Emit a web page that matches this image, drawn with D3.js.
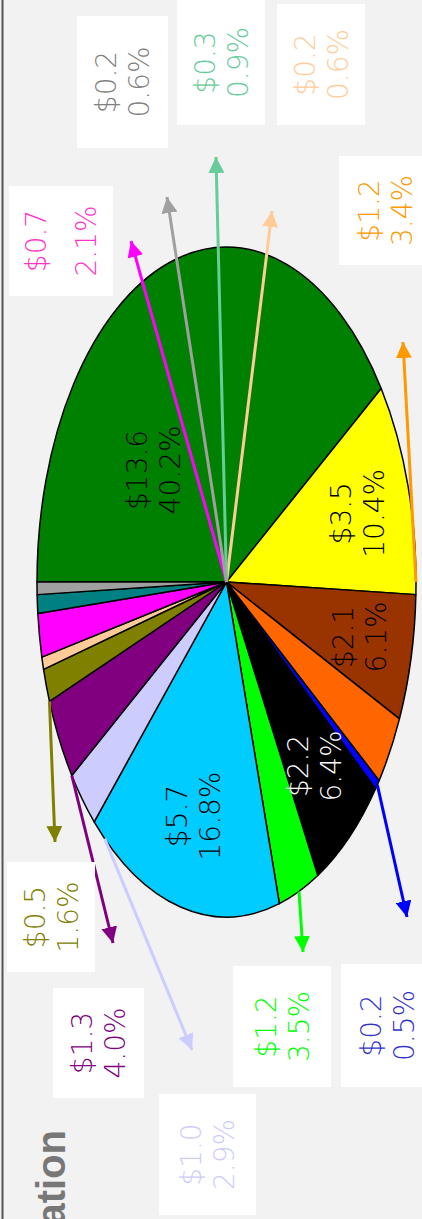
<!DOCTYPE html>
<html>
<head>
<meta charset="utf-8">
<script src="https://cdn.jsdelivr.net/npm/d3@7"></script>
<style>
  body { margin: 0; background: #f2f2f2; }
  svg { display: block; }
</style>
</head>
<body>
<script>
///////////////////////////////////////////////////////
// data

var categories = ["green", "yellow", "brown", "orange", "blue", "black", "lime", "cyan",
  "lavender", "purple", "olive", "peach", "magenta", "teal", "gray"];
var amounts = [13.6, 3.5, 2.1, 1.2, 0.2, 2.2, 1.2, 5.7, 1.0, 1.3, 0.5, 0.2, 0.7, 0.3, 0.2];
var shares = [40.2, 10.4, 6.1, 3.4, 0.5, 6.4, 3.5, 16.8, 2.9, 4.0, 1.6, 0.6, 2.1, 0.9, 0.6];
var sliceColors = ["#008000", "#ffff00", "#993300", "#ff6600", "#0000ff", "#000000", "#00ff00", "#00ccff",
  "#ccccff", "#800080", "#808000", "#ffcc99", "#ff00ff", "#008080", "#a0a0a0"];
var labelColors = ["#000000", "#000000", "#000000", "#ff9900", "#3333cc", "#ffffff", "#00ff00", "#000000",
  "#ccccff", "#800080", "#808000", "#ffcc99", "#ff33cc", "#66cc99", "#808080"];
var arrowColors = ["#008000", "#ffff00", "#993300", "#ff9900", "#0000ff", "#000000", "#00ff00", "#00ccff",
  "#ccccff", "#800080", "#808000", "#ffcc99", "#ff00ff", "#66cc99", "#a0a0a0"];
var title = "Allocation";

///////////////////////////////////////////////////////
// layout (chart is drawn landscape, then turned a quarter left)

var W = 1219, H = 422;
var cx = 637, cy = 226.5, rx = 335, ry = 189.5;
var font = "'DejaVu Sans', sans-serif";

// boxed callouts for the thin slices: box = [x, y, w, h]
var callouts = {
  orange:   { box: [954, 339, 109, 92], tip: [877, 403], from: 180 },
  blue:     { box: [132, 341, 123, 92], tip: [302, 407], from: "mid" },
  lime:     { box: [132, 233, 121, 98], tip: [267, 303], from: "mid" },
  lavender: { box: [4, 159, 121, 97],   tip: [169, 192], from: 310 },
  purple:   { box: [121, 53, 110, 91],  tip: [276, 113], from: "start" },
  olive:    { box: [247, 7, 110, 88],   tip: [377, 55],  from: "start" },
  peach:    { box: [1094, 277, 121, 88], tip: [1008, 272], from: "center" },
  magenta:  { box: [923, 9, 110, 104],  tip: [978, 131], from: "center", gap: 50 },
  teal:     { box: [1094, 177, 125, 88], tip: [1062, 216], from: "center" },
  gray:     { box: [1071, 77, 132, 91], tip: [1022, 167], from: "center" }
};
var labelOverride = { green: { angle: 41, r: 0.51 } };

///////////////////////////////////////////////////////
// DOM

var svg = d3.select("body").append("svg")
  .attr("width", H)
  .attr("height", W);

svg.append("rect")
  .attr("width", H).attr("height", W)
  .attr("fill", "#f2f2f2");

var chart = svg.append("g")
  .attr("transform", "translate(0," + W + ") rotate(-90)");

// top frame line
chart.append("rect")
  .attr("x", 0).attr("y", 1.5)
  .attr("width", W).attr("height", 2)
  .attr("fill", "#555");

chart.append("text")
  .attr("x", 89).attr("y", 65)
  .attr("text-anchor", "end")
  .attr("font-family", "'Liberation Sans', Arial, sans-serif")
  .attr("font-weight", "bold")
  .attr("font-size", 40)
  .attr("fill", "#777")
  .text(title);

///////////////////////////////////////////////////////
// pie

var data = categories.map(function(c, i) {
  return { key: c, amount: amounts[i], share: shares[i], color: sliceColors[i],
    label: labelColors[i], arrow: arrowColors[i] };
});

var pie = d3.pie().sort(null).value(function(d) { return d.share; });
var arcs = pie(data);
var arc = d3.arc().innerRadius(0).outerRadius(rx);
var labelArc = d3.arc().innerRadius(rx * 0.44).outerRadius(rx);

var pieG = chart.append("g")
  .attr("transform", "translate(" + cx + "," + cy + ") scale(1," + (ry / rx) + ")");

pieG.selectAll(".slice")
  .data(arcs)
  .enter().append("path")
  .classed("slice", true)
  .attr("d", arc)
  .attr("fill", function(d) { return d.data.color; })
  .attr("stroke", "#000")
  .attr("stroke-width", 1.5)
  .attr("stroke-linejoin", "round")
  .attr("vector-effect", "non-scaling-stroke");

function edgePoint(a, f) { // a in radians, clockwise from 12 o'clock
  return [cx + rx * f * Math.sin(a), cy - ry * f * Math.cos(a)];
}

function twoLines(sel, d, x, y, gap, color) {
  var t = sel.append("text")
    .attr("text-anchor", "middle")
    .attr("font-family", font)
    .attr("font-weight", 200)
    .attr("font-size", 28)
    .attr("fill", color);
  t.append("tspan").attr("x", x).attr("y", y - gap / 2).attr("dy", "0.36em")
    .text("$" + d3.format(".1f")(d.amount));
  t.append("tspan").attr("x", x).attr("y", y + gap / 2).attr("dy", "0.36em")
    .text(d3.format(".1f")(d.share) + "%");
}

// labels inside the big slices
var inner = chart.append("g");
arcs.filter(function(d) { return !callouts[d.data.key]; }).forEach(function(d) {
  var o = labelOverride[d.data.key], p;
  if (o) {
    p = edgePoint(o.angle * Math.PI / 180, o.r);
  } else {
    var c = labelArc.centroid(d);
    p = [cx + c[0], cy + c[1] * ry / rx];
  }
  twoLines(inner, d.data, p[0], p[1], 33, d.data.label);
});

// arrows
var defs = svg.append("defs");
arcs.filter(function(d) { return callouts[d.data.key]; }).forEach(function(d) {
  defs.append("marker")
    .attr("id", "head-" + d.data.key)
    .attr("viewBox", "0 0 10 10")
    .attr("refX", 10).attr("refY", 5)
    .attr("markerUnits", "userSpaceOnUse")
    .attr("markerWidth", 16).attr("markerHeight", 16)
    .attr("orient", "auto")
    .append("path")
    .attr("d", "M0,0L10,5L0,10Z")
    .attr("fill", d.data.arrow);
});

var arrows = chart.append("g");
arcs.filter(function(d) { return callouts[d.data.key]; }).forEach(function(d) {
  var c = callouts[d.data.key], start;
  if (c.from === "center") start = [cx, cy];
  else if (c.from === "mid") start = edgePoint((d.startAngle + d.endAngle) / 2, 1);
  else if (c.from === "start") start = edgePoint(d.startAngle, 1);
  else start = edgePoint(c.from * Math.PI / 180, 1);
  arrows.append("line")
    .attr("x1", start[0]).attr("y1", start[1])
    .attr("x2", c.tip[0]).attr("y2", c.tip[1])
    .attr("stroke", d.data.arrow)
    .attr("stroke-width", 3)
    .attr("marker-end", "url(#head-" + d.data.key + ")");
});

// boxed labels
var boxes = chart.append("g");
arcs.filter(function(d) { return callouts[d.data.key]; }).forEach(function(d) {
  var b = callouts[d.data.key].box;
  boxes.append("rect")
    .attr("x", b[0]).attr("y", b[1])
    .attr("width", b[2]).attr("height", b[3])
    .attr("fill", "#fff");
  twoLines(boxes, d.data, b[0] + b[2] / 2, b[1] + b[3] / 2, callouts[d.data.key].gap || 33, d.data.label);
});
</script>
</body>
</html>
